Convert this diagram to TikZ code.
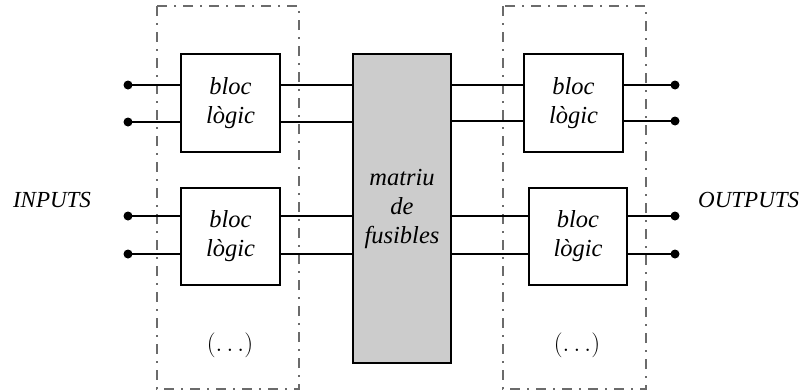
\documentclass[tikz,border=0pt]{standalone}
\usepackage{fontspec}
\setmainfont{Liberation Serif}
\begin{document}
\begin{tikzpicture}[x=1pt,y=-1pt,
  blk/.style={draw, line width=2.6pt, inner sep=0pt, align=center,
    font=\fontsize{24.5}{29}\selectfont\itshape},
  fuse/.style={blk, fill=black!20, font=\fontsize{24.5}{29}\selectfont\itshape},
  wire/.style={line width=2.4pt},
  pin/.style={circle, fill=black, inner sep=0pt, minimum size=9pt},
  grp/.style={draw=black!58, line width=2.4pt,
    dash pattern=on 10pt off 7pt on 2pt off 7pt},
  lbl/.style={inner sep=0pt, font=\fontsize{23}{27}\selectfont\itshape},
  etc/.style={inner sep=0pt, font=\fontsize{24}{28}\selectfont}]
\useasboundingbox (0,0) rectangle (805,391);

% dashed groups of logic blocks
\draw[grp] (157,6) rectangle (299,389);
\draw[grp] (503,6) rectangle (646,389);

% logic blocks and fuse matrix
\node[blk, minimum width=99pt, minimum height=98pt] (L1) at (230.5,103) {bloc\\lògic};
\node[blk, minimum width=99pt, minimum height=97pt] (L2) at (230.5,236.5) {bloc\\lògic};
\node[fuse, minimum width=98pt, minimum height=309pt] (M) at (402,208.5) {matriu\\de\\fusibles};
\node[blk, minimum width=99pt, minimum height=98pt] (R1) at (573.5,103) {bloc\\lògic};
\node[blk, minimum width=98pt, minimum height=97pt] (R2) at (578,236.5) {bloc\\lògic};

\node[etc] (dotsL) at (230,345) {$(\ldots)$};
\node[etc] (dotsR) at (577,345) {$(\ldots)$};

% terminals
\node[pin] (i1) at (128,85) {};
\node[pin] (i2) at (128,122) {};
\node[pin] (i3) at (128,216) {};
\node[pin] (i4) at (128,254) {};
\node[pin] (o1) at (675,85) {};
\node[pin] (o2) at (675,121) {};
\node[pin] (o3) at (675,216) {};
\node[pin] (o4) at (675,254) {};

% wiring
\foreach \k/\a/\b in {1/L1/R1, 2/L1/R1, 3/L2/R2, 4/L2/R2} {
  \draw[wire] (i\k.center) -- (\a.west |- i\k.center);
  \draw[wire] (\a.east |- i\k.center) -- (M.west |- i\k.center);
  \draw[wire] (M.east |- o\k.center) -- (\b.west |- o\k.center);
  \draw[wire] (\b.east |- o\k.center) -- (o\k.center);
}

\node[lbl] (inputs) at (52,199.5) {INPUTS};
\node[lbl, anchor=west] (outputs) at (698,199.5) {OUTPUTS};
\end{tikzpicture}
\end{document}
